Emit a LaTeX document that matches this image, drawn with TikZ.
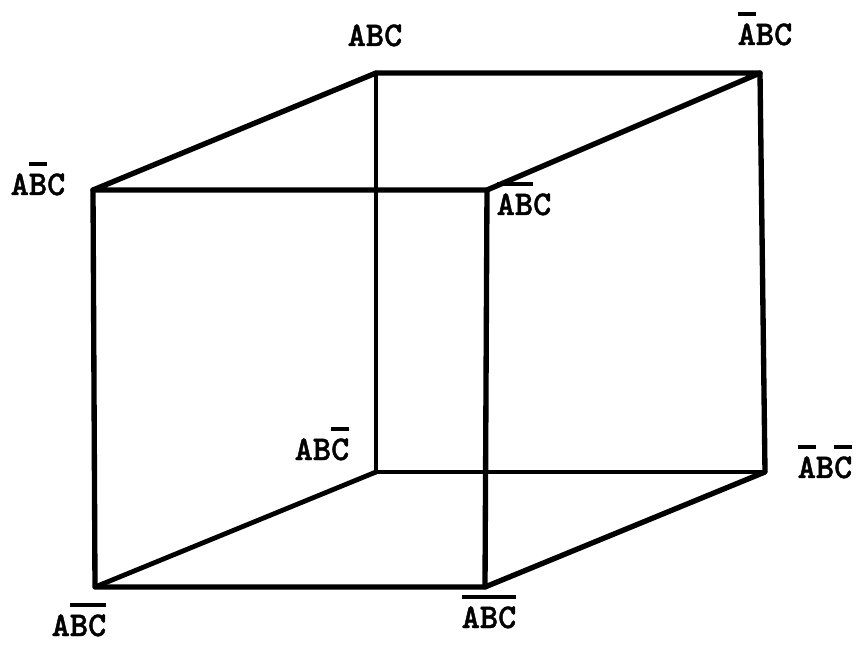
\documentclass[tikz,border=0pt]{standalone}
\usepackage{fontspec}
\newfontfamily\lblfont{lmmonolt10-bold.otf}[FakeBold=1.2]
% garis atas yang tebal
\newcommand{\ol}[1]{\leavevmode\vbox{\hrule height 3pt\kern 5.5pt\hbox{#1}}}
\begin{document}
\begin{tikzpicture}[x=0.75pt,y=-0.75pt]
    \tikzset{
        edge/.style={line width=4pt, line cap=round, line join=round},
        backedge/.style={line width=3.6pt, line cap=round},
        lbl/.style={font=\lblfont\fontsize{26}{28}\selectfont, inner sep=0pt}
    }
    \useasboundingbox (0,0) rectangle (861,645);

    % Titik sudut kubus
    \coordinate (btl) at (376,73);
    \coordinate (btr) at (760,73);
    \coordinate (ftl) at (93,190);
    \coordinate (ftr) at (487,190);
    \coordinate (bbl) at (376,472);
    \coordinate (bbr) at (765,472);
    \coordinate (fbl) at (95,587);
    \coordinate (fbr) at (485,587);

    % Rusuk belakang
    \draw[backedge] (btl) -- (bbl);
    \draw[backedge] (bbl) -- (bbr);
    \draw[backedge] (bbl) -- (fbl);

    % Rusuk lainnya
    \draw[edge] (ftl) -- (btl) -- (btr) -- (ftr) -- cycle;
    \draw[edge] (ftl) -- (fbl) -- (fbr) -- (ftr);
    \draw[edge] (btr) -- (bbr) -- (fbr);

    % Label
    \node[lbl,anchor=base] (l1) at (375,46) {ABC};
    \node[lbl,anchor=base] (l2) at (765,45) {\ol{A}BC};
    \node[lbl,anchor=base] (l3) at (38,195) {A\ol{B}C};
    \node[lbl,anchor=base] (l4) at (524,215) {\ol{AB}C};
    \node[lbl,anchor=base] (l5) at (322,460) {AB\ol{C}};
    \node[lbl,anchor=base] (l6) at (825,478) {\ol{A}B\ol{C}};
    \node[lbl,anchor=base] (l7) at (79,636) {A\ol{BC}};
    \node[lbl,anchor=base] (l8) at (489,628) {\ol{ABC}};
\end{tikzpicture}
\end{document}
